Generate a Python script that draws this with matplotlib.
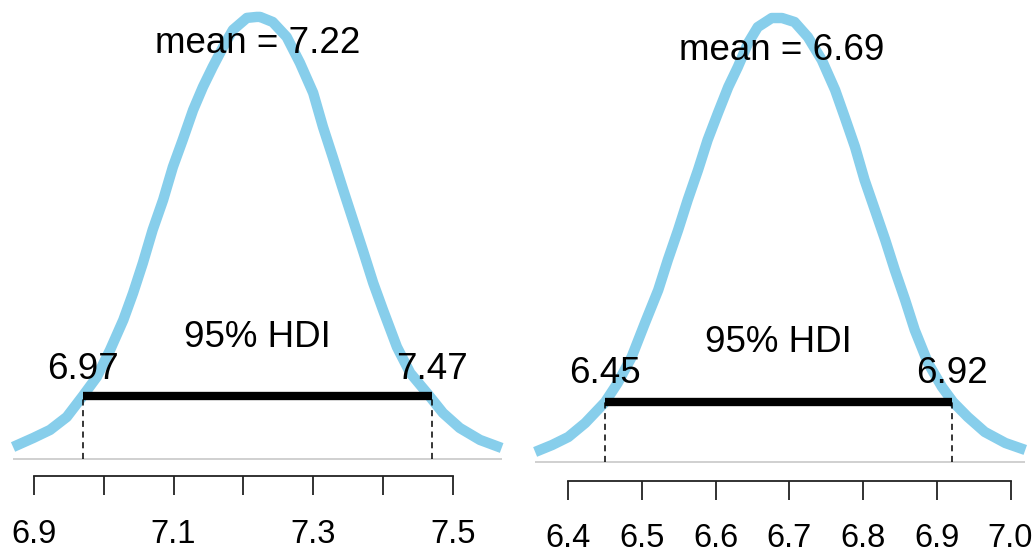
import numpy as np
import matplotlib.pyplot as plt

plt.rcParams['font.family'] = ['Liberation Sans', 'DejaVu Sans']

# left panel: posterior density
left_x = [6.870, 6.899, 6.923, 6.947, 6.970, 6.990, 7.009, 7.028, 7.042, 7.056,
          7.070, 7.085, 7.099, 7.113, 7.128, 7.142, 7.156, 7.171, 7.185, 7.205,
          7.219, 7.224, 7.242, 7.262, 7.281, 7.300, 7.314, 7.328, 7.343, 7.357,
          7.371, 7.386, 7.400, 7.420, 7.439, 7.463, 7.486, 7.510, 7.539, 7.570]
left_d = [0.085, 0.149, 0.206, 0.298, 0.447, 0.582, 0.773, 0.986, 1.177, 1.390,
          1.624, 1.837, 2.071, 2.262, 2.475, 2.638, 2.780, 2.922, 3.043, 3.128,
          3.135, 3.135, 3.099, 2.993, 2.809, 2.596, 2.355, 2.142, 1.908, 1.695,
          1.482, 1.248, 1.057, 0.794, 0.610, 0.468, 0.326, 0.220, 0.135, 0.078]

# right panel
right_x = [6.355, 6.378, 6.400, 6.423, 6.450, 6.467, 6.486, 6.504, 6.522, 6.535,
           6.549, 6.562, 6.576, 6.589, 6.603, 6.617, 6.630, 6.644, 6.657, 6.676,
           6.690, 6.707, 6.725, 6.744, 6.762, 6.775, 6.789, 6.802, 6.816, 6.830,
           6.843, 6.857, 6.870, 6.888, 6.907, 6.922, 6.942, 6.965, 6.993, 7.020]
right_d = [0.075, 0.127, 0.187, 0.292, 0.449, 0.592, 0.787, 1.041, 1.288, 1.513,
           1.738, 1.963, 2.187, 2.412, 2.614, 2.809, 2.959, 3.139, 3.258, 3.326,
           3.326, 3.296, 3.184, 3.011, 2.787, 2.584, 2.360, 2.112, 1.888, 1.663,
           1.438, 1.213, 0.989, 0.742, 0.562, 0.449, 0.337, 0.225, 0.142, 0.090]

means = [7.22, 6.69]
hdi_lo = [6.97, 6.45]
hdi_hi = [7.47, 6.92]
hdi_height = [0.447, 0.449]

left_ticks = [6.9, 7.0, 7.1, 7.2, 7.3, 7.4, 7.5]
left_labels = ['6.9', '', '7.1', '', '7.3', '', '7.5']
right_ticks = [6.4, 6.5, 6.6, 6.7, 6.8, 6.9, 7.0]
right_labels = ['6.4', '6.5', '6.6', '6.7', '6.8', '6.9', '7.0']

fig = plt.figure(figsize=(10.35, 5.55), dpi=100)
ax1 = fig.add_axes([0, 0, 517 / 1035, 1])
ax2 = fig.add_axes([518 / 1035, 0, 517 / 1035, 1])

panels = [
    (ax1, left_x, left_d, (6.8513, 7.5920), (-0.681, 3.255), -0.1206,
     left_ticks, left_labels, (2.879, 0.794, 0.567)),
    (ax2, right_x, right_d, (6.33175, 7.0332), (-0.697, 3.461), -0.140,
     right_ticks, right_labels, (3.011, 0.824, 0.592)),
]

for i, (ax, xs, ds, xlim, ylim, spine_y, ticks, labels, text_y) in enumerate(panels):
    ax.hlines(0, xs[0], xs[-1], color='#c8c8c8', lw=1.2)
    ax.plot(xs, ds, color='#87ceeb', lw=7.5, solid_joinstyle='round',
            solid_capstyle='butt')
    h = hdi_height[i]
    ax.plot([hdi_lo[i], hdi_hi[i]], [h, h], color='black', lw=6,
            solid_capstyle='butt')
    for v in (hdi_lo[i], hdi_hi[i]):
        ax.plot([v, v], [0, h], color='black', lw=1.1, ls=(0, (4, 3)))
    ax.text(means[i], text_y[0], f'mean = {means[i]:.2f}', ha='center',
            va='baseline', fontsize=26.5)
    ax.text((hdi_lo[i] + hdi_hi[i]) / 2, text_y[1], '95% HDI', ha='center',
            va='baseline', fontsize=26.5)
    ax.text(hdi_lo[i], text_y[2], f'{hdi_lo[i]:.2f}', ha='center',
            va='baseline', fontsize=26.5)
    ax.text(hdi_hi[i], text_y[2], f'{hdi_hi[i]:.2f}', ha='center',
            va='baseline', fontsize=26.5)

    ax.set_xlim(*xlim)
    ax.set_ylim(*ylim)
    for s in ('top', 'right', 'left'):
        ax.spines[s].set_visible(False)
    ax.spines['bottom'].set_position(('data', spine_y))
    ax.spines['bottom'].set_bounds(ticks[0], ticks[-1])
    ax.spines['bottom'].set_color('#222222')
    ax.spines['bottom'].set_linewidth(1.3)
    ax.set_xticks(ticks)
    ax.set_xticklabels(labels)
    ax.set_yticks([])
    ax.tick_params(axis='x', direction='out', length=13.7, width=1.3,
                   color='#222222', labelsize=23.5, pad=17)
    ax.patch.set_visible(False)

plt.savefig('out.png', dpi=100)
